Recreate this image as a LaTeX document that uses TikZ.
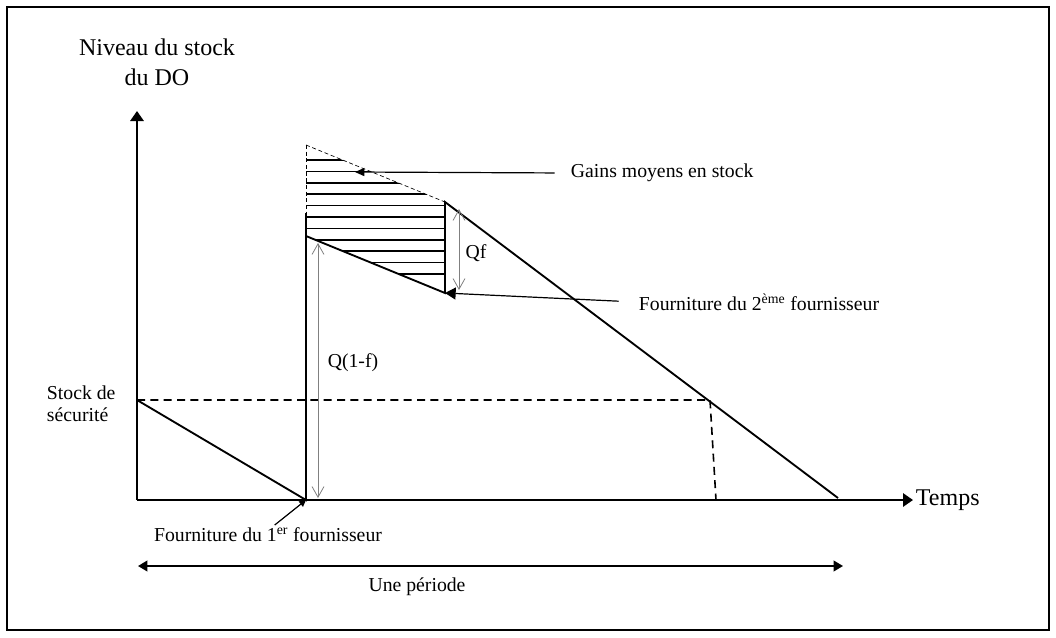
\documentclass[tikz,border=0pt]{standalone}
\usepackage{fontspec}
\setmainfont{Liberation Serif}
\usetikzlibrary{arrows.meta}
\tikzset{
  axis/.style={line width=1.5pt, -{Triangle[length=7.5pt,width=10pt]}},
  level/.style={line width=1.4pt},
  hatch/.style={line width=1.2pt},
  guide/.style={line width=1.2pt, dash pattern=on 6pt off 4pt},
  thin dash/.style={line width=0.5pt, dash pattern=on 3pt off 2pt},
  measure/.style={gray, line width=0.6pt, {Straight Barb[length=8pt,width=9pt]}-{Straight Barb[length=8pt,width=9pt]}},
  pointer/.style={line width=0.9pt, -{Triangle[length=7pt,width=6pt]}},
  small/.style={font=\fontsize{14.8}{16.5}\selectfont, inner sep=2pt},
  big/.style={font=\fontsize{18}{22.5}\selectfont, inner sep=2pt}
}
\begin{document}
\begin{tikzpicture}[x=0.75pt, y=-0.75pt]
        \useasboundingbox (0,0) rectangle (1056,637);
        % Frame
        \draw[line width=1pt] (7,7) rectangle (1049,630);

        % Points of the curve
        \coordinate (O) at (137,500);
        \coordinate (S) at (137,400);
        \coordinate (A1) at (306,500);
        \coordinate (T1) at (306,213);
        \coordinate (H1) at (306,145);
        \coordinate (L1) at (306,236);
        \coordinate (B2) at (445,293);
        \coordinate (T2) at (445,202);
        \coordinate (E) at (838,498);
        \coordinate (R) at (710,400);
        \coordinate (Rx) at (716,500);

        % Axes
        \draw[axis] (O) -- (137,111) coordinate (ytop);
        \draw[axis] (O) -- (913,500) coordinate (xend);
        \node[big, anchor=west] (temps) at (xend) {Temps};
        \node[big, align=center] (niveau) at (157,62) {Niveau du stock\\du DO};
        \node[small, anchor=west, align=left] (secu) at (44,404) {Stock de\\sécurité};

        % Hatched gain
        \begin{scope}
          \clip (H1) -- (T2) -- (B2) -- (L1) -- cycle;
          \foreach \k in {0,...,10}
            \draw[hatch] (300,160+11.4*\k) -- (450,160+11.4*\k);
        \end{scope}
        \draw[thin dash] (H1) -- (T2);
        \draw[thin dash] (H1) -- (T1);

        % Stock level
        \draw[level] (S) -- (A1) -- (T1);
        \draw[level] (L1) -- (B2) -- (T2) -- (E);

        % Safety stock
        \draw[guide] (S) -- (R) -- (Rx);

        % Quantities
        \draw[measure] (318,243) coordinate (q1) -- (318,498) coordinate (q2);
        \node[small] (qlow) at (353,363) {Q(1-f)};
        \draw[measure] (459,209) coordinate (f1) -- (459,290) coordinate (f2);
        \node[small] (qf) at (476,253) {Qf};

        % Labels
        \node[small, anchor=west] (gains) at (568,173) {Gains moyens en stock};
        \draw[pointer, shorten <=10pt] (gains.west) -- (355,172) coordinate (gtip);
        \node[small, anchor=west] (four2) at (636,302) {Fourniture du 2\textsuperscript{ème} fournisseur};
        \draw[pointer, -{Triangle[length=8pt,width=9pt]}, shorten <=13pt] (four2.west) -- (B2);
        \node[small] (four1) at (268,535) {Fourniture du 1\textsuperscript{er} fournisseur};
        \draw[pointer, -{Triangle[length=5pt,width=5pt]}] ([xshift=5pt]four1.north) -- (A1);

        % Period
        \draw[line width=1.3pt, {Triangle[length=7pt,width=8pt]}-{Triangle[length=7pt,width=8pt]}] (138,566) coordinate (p1) -- (843,566) coordinate (p2);
        \node[small] (periode) at (417,587) {Une période};
    \end{tikzpicture}
\end{document}
